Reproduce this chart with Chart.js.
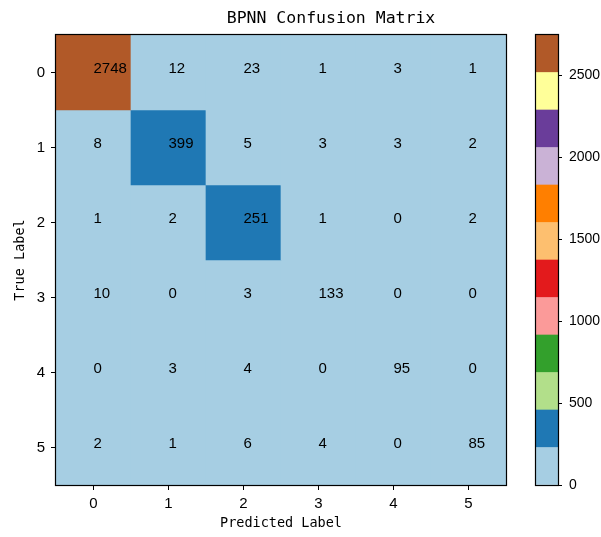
<!DOCTYPE html>
<html>
<head>
<meta charset="utf-8">
<title>BPNN Confusion Matrix</title>
<script src="https://cdn.jsdelivr.net/npm/chart.js@4.4.1/dist/chart.umd.min.js"></script>
<style>
  html, body { margin: 0; padding: 0; background: #fff; }
  #wrap { position: relative; width: 601px; height: 537px; overflow: hidden; }
  #wrap canvas { position: absolute; top: 0; }
</style>
</head>
<body>
<div id="wrap">
  <canvas id="matrixChart" width="601" height="537" style="left:0"></canvas>
  <canvas id="colorbarChart" width="95" height="537" style="left:506px"></canvas>
</div>
<script>
// confusion matrix counts, one array per true label (rows), columns = predicted label
const predLabels = ["0", "1", "2", "3", "4", "5"];
const trueLabels = ["0", "1", "2", "3", "4", "5"];
const row0 = [2748, 12, 23, 1, 3, 1];
const row1 = [8, 399, 5, 3, 3, 2];
const row2 = [1, 2, 251, 1, 0, 2];
const row3 = [10, 0, 3, 133, 0, 0];
const row4 = [0, 3, 4, 0, 95, 0];
const row5 = [2, 1, 6, 4, 0, 85];
const colorbarTicks = [0, 500, 1000, 1500, 2000, 2500];

// matplotlib "Paired" colormap, 12 discrete levels
const pairedColors = ["#a6cee3", "#1f78b4", "#b2df8a", "#33a02c", "#fb9a99", "#e31a1c",
                      "#fdbf6f", "#ff7f00", "#cab2d6", "#6a3d9a", "#ffff99", "#b15928"];

const rows = [row0, row1, row2, row3, row4, row5];
const vmax = Math.max(...rows.flat());

const MONO = "'DejaVu Sans Mono', 'Liberation Mono', monospace";
const SANS = "'Liberation Sans', Arial, sans-serif";

function colorFor(v) {
  const idx = Math.min(Math.floor(v / vmax * pairedColors.length), pairedColors.length - 1);
  return pairedColors[idx];
}

// black frame round the plot area (matplotlib spines)
const framePlugin = {
  id: "frame",
  afterDraw(chart) {
    const { ctx, chartArea: a } = chart;
    ctx.save();
    ctx.strokeStyle = "#000";
    ctx.lineWidth = 1.2;
    ctx.strokeRect(a.left - 0.5, a.top - 0.5, a.right - a.left + 1, a.bottom - a.top + 1);
    ctx.restore();
  }
};

// count in each cell, plt.text default alignment (left / baseline at cell centre)
const cellTextPlugin = {
  id: "cellText",
  afterDatasetsDraw(chart) {
    const ctx = chart.ctx;
    const xs = chart.scales.x, ys = chart.scales.y;
    ctx.save();
    ctx.font = "15px " + SANS;
    ctx.fillStyle = "#000";
    ctx.textAlign = "left";
    ctx.textBaseline = "alphabetic";
    rows.forEach((vals, r) => {
      vals.forEach((v, c) => {
        ctx.fillText(String(v), xs.getPixelForValue(c), ys.getPixelForValue(r + 0.5));
      });
    });
    ctx.restore();
  }
};

const titlePlugin = {
  id: "plotTitle",
  afterDraw(chart) {
    const ctx = chart.ctx;
    ctx.save();
    ctx.font = "16.5px " + MONO;
    ctx.fillStyle = "#000";
    ctx.textAlign = "center";
    ctx.textBaseline = "alphabetic";
    ctx.fillText("BPNN Confusion Matrix", 331, 23);
    ctx.restore();
  }
};

const axisGrid = { display: true, drawOnChartArea: false, drawTicks: true, tickLength: 5, color: "#000", tickColor: "#000" };

new Chart(document.getElementById("matrixChart"), {
  type: "bar",
  data: {
    labels: predLabels,
    datasets: rows.map((vals, r) => ({
      label: "True " + trueLabels[r],
      data: vals.map(() => [r, r + 1]),
      backgroundColor: vals.map(colorFor),
      borderWidth: 0,
      barPercentage: 1,
      categoryPercentage: 1,
      grouped: false
    }))
  },
  options: {
    responsive: false,
    animation: false,
    layout: { padding: { left: 0, right: 95, top: 35, bottom: 0 } },
    plugins: { legend: { display: false }, tooltip: { enabled: false }, title: { display: false } },
    scales: {
      x: {
        type: "category",
        offset: true,
        grid: { ...axisGrid, offset: false },
        border: { display: true, color: "#000" },
        ticks: { color: "#000", font: { family: SANS, size: 15 }, padding: 5 },
        title: { display: true, text: "Predicted Label", color: "#000", font: { family: MONO, size: 13.5 }, padding: { top: 0, bottom: 5 } },
        afterFit: (s) => { s.height = 52; }
      },
      y: {
        type: "linear",
        min: 0,
        max: trueLabels.length,
        reverse: true,
        grid: axisGrid,
        border: { display: true, color: "#000" },
        afterBuildTicks: (s) => { s.ticks = trueLabels.map((_, i) => ({ value: i + 0.5 })); },
        ticks: { color: "#000", font: { family: SANS, size: 15 }, padding: 6, callback: (v, i) => trueLabels[i] },
        title: { display: true, text: "True Label", color: "#000", font: { family: MONO, size: 13.5 }, padding: { top: 12, bottom: 0 } },
        afterFit: (s) => { s.width = 56; }
      }
    }
  },
  plugins: [cellTextPlugin, framePlugin, titlePlugin]
});

// colour bar: one stacked segment per colormap level
new Chart(document.getElementById("colorbarChart"), {
  type: "bar",
  data: {
    labels: [""],
    datasets: pairedColors.map((color) => ({
      data: [vmax / pairedColors.length],
      backgroundColor: color,
      borderWidth: 0,
      barPercentage: 1,
      categoryPercentage: 1
    }))
  },
  options: {
    responsive: false,
    animation: false,
    layout: { padding: { left: 30, right: 0, top: 35, bottom: 52 } },
    plugins: { legend: { display: false }, tooltip: { enabled: false } },
    scales: {
      x: { display: false, stacked: true },
      y: {
        stacked: true,
        position: "right",
        min: 0,
        max: vmax,
        grid: { ...axisGrid, tickLength: 4 },
        border: { display: true, color: "#000" },
        afterBuildTicks: (s) => { s.ticks = colorbarTicks.map((v) => ({ value: v })); },
        ticks: { color: "#000", font: { family: SANS, size: 14 }, padding: 7, callback: (v) => String(v) },
        afterFit: (s) => { s.width = 43; }
      }
    }
  },
  plugins: [framePlugin]
});
</script>
</body>
</html>
